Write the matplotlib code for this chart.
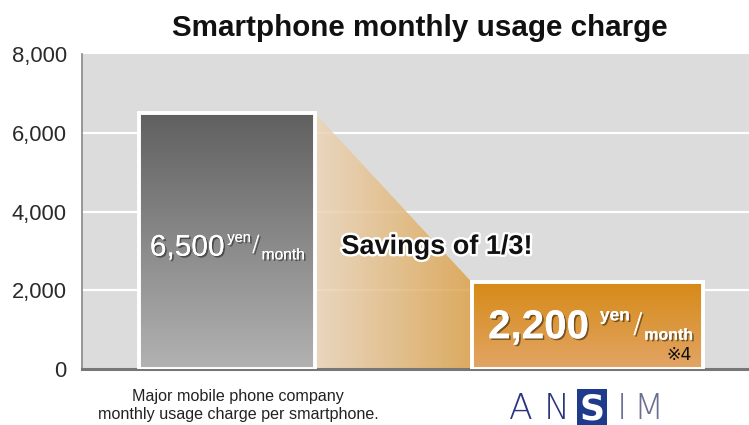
import numpy as np
import matplotlib
matplotlib.use("Agg")
import matplotlib.pyplot as plt
from matplotlib.colors import LinearSegmentedColormap
from matplotlib.patches import Polygon, Rectangle
import matplotlib.patheffects as pe

# ---- data ----
categories = ["Major mobile phone company\nmonthly usage charge per smartphone.", "ANSIM"]
values = [6500, 2200]
value_labels = ["6,500", "2,200"]
yticks = [0, 2000, 4000, 6000, 8000]
ytick_labels = ["0", "2,000", "4,000", "6,000", "8,000"]
title = "Smartphone monthly usage charge"
savings_text = "Savings of 1/3!"

W, H = 749, 425
fig = plt.figure(figsize=(W / 100, H / 100), dpi=100)
fig.patch.set_facecolor("white")

ax_l, ax_r, ax_t, ax_b = 82, 749, 54, 369
ax = fig.add_axes([ax_l / W, 1 - ax_b / H, (ax_r - ax_l) / W, (ax_b - ax_t) / H])
ax.set_facecolor("#dcdcdc")

xpos = [0, 1]
widths = [0.488, 0.641]
scale = 360.5
xlim = ((ax_l - 227) / scale, (ax_r - 227) / scale)

# grid
for yv in yticks[1:-1]:
    ax.axhline(yv, color="white", lw=1.6, zorder=1)

# gradient bars
bar_cmaps = [
    LinearSegmentedColormap.from_list("g", ["#b2b2b2", "#606060"]),
    LinearSegmentedColormap.from_list("o", ["#e2a566", "#d68a16"]),
]
grad_v = np.linspace(0, 1, 256).reshape(-1, 1)
bars = ax.bar(xpos, values, widths, color="none", edgecolor="white", lw=2.8, zorder=4)
for b, cm in zip(bars, bar_cmaps):
    x0 = b.get_x(); w = b.get_width(); h = b.get_height()
    ax.imshow(grad_v, cmap=cm, extent=(x0, x0 + w, 0, h), origin="lower",
              aspect="auto", zorder=3, interpolation="bicubic")

# savings wedge
xr0 = bars[0].get_x() + bars[0].get_width()
xl1 = bars[1].get_x()
poly = Polygon([(xr0, values[0]), (xl1, values[1]), (xl1, 0), (xr0, 0)],
               closed=True, facecolor="none", edgecolor="none")
ax.add_patch(poly)
wedge_cm = LinearSegmentedColormap.from_list("w", ["#ecd6bb", "#dca24a"])
grad_h = np.linspace(0, 1, 256).reshape(1, -1)
im = ax.imshow(grad_h, cmap=wedge_cm, extent=(xr0, xl1, 0, values[0]), origin="lower",
               aspect="auto", zorder=2, alpha=0.85, interpolation="bicubic")
im.set_clip_path(poly)

ax.set_xlim(*xlim)
ax.set_ylim(0, 8000)
ax.set_yticks(yticks)
ax.set_yticklabels(ytick_labels, fontsize=15.8, color="#2a2a2a", fontfamily="Liberation Sans")
ax.tick_params(axis="y", length=0, pad=11)
ax.set_xticks([])
for s in ["top", "right"]:
    ax.spines[s].set_visible(False)
ax.spines["left"].set_color("#888888")
ax.spines["left"].set_linewidth(1.2)
ax.spines["bottom"].set_color("#777777")
ax.spines["bottom"].set_linewidth(2.2)

# title
fig.text(420 / W, 1 - 28 / H, title, ha="center", va="center", fontsize=21.3,
         fontweight="bold", color="#111111", family="Liberation Sans")

# value labels
shadow = [pe.withSimplePatchShadow(offset=(1.2, -1.2), shadow_rgbFace="black", alpha=0.45), pe.Normal()]
bx0 = bars[0].get_x()
ax.text(bx0 + 0.03, 3080, value_labels[0], ha="left", va="center", fontsize=21.5,
        color="white", family="Liberation Sans", path_effects=shadow, zorder=6)
ax.text(bx0 + 0.245, 3330, "yen", ha="left", va="center", fontsize=10.5,
        color="white", family="Liberation Sans", path_effects=shadow, zorder=6)
ax.text(bx0 + 0.324, 3150, "/", ha="center", va="center", fontsize=16,
        color="white", family="DejaVu Sans", fontweight="light", path_effects=shadow, zorder=6)
ax.text(bx0 + 0.34, 2900, "month", ha="left", va="center", fontsize=11.2,
        color="white", family="Liberation Sans", path_effects=shadow, zorder=6)

bx1 = bars[1].get_x()
ax.text(bx1 + 0.045, 1060, value_labels[1], ha="left", va="center", fontsize=29,
        color="white", fontweight="bold", family="Liberation Sans", path_effects=shadow, zorder=6)
ax.text(bx1 + 0.355, 1350, "yen", ha="left", va="center", fontsize=12.5,
        color="white", fontweight="bold", family="Liberation Sans", path_effects=shadow, zorder=6)
ax.text(bx1 + 0.46, 1130, "/", ha="center", va="center", fontsize=20,
        color="white", fontweight="light", family="DejaVu Sans", path_effects=shadow, zorder=6)
ax.text(bx1 + 0.478, 860, "month", ha="left", va="center", fontsize=11.5,
        color="white", fontweight="bold", family="Liberation Sans", path_effects=shadow, zorder=6)
ax.text(bx1 + bars[1].get_width() - 0.03, 360, "※4", ha="right", va="center",
        fontsize=12.5, color="#111111", family=["DejaVu Sans", "Noto Sans CJK JP"], zorder=6)

# savings text
ax.text((437 - 227) / scale, 3100, savings_text, ha="center", va="center", fontsize=19.5,
        fontweight="bold", color="#111111", family="Liberation Sans",
        path_effects=[pe.withStroke(linewidth=3.5, foreground="white")], zorder=6)

# category label
fig.text(238 / W, 1 - 405 / H, categories[0], ha="center", va="center", fontsize=11.6,
         color="#222222", family="Liberation Sans", linespacing=1.25)

# logo
logo_y = 1 - 409 / H
letters = ["A", "N", "S", "I", "M"]
lx = [521, 557, 592, 622, 648]
lc = ["#2a3580", "#2a3580", "white", "#6a7090", "#6a7090"]
for ch, x, c in zip(letters, lx, lc):
    if ch == "S":
        fig.patches.append(Rectangle(((x - 15) / W, 1 - 425 / H), 30 / W, 36 / H,
                                     transform=fig.transFigure, facecolor="#1e3a8c",
                                     edgecolor="none"))
    fig.text(x / W, logo_y, ch, ha="center", va="center", fontsize=25, color=c,
             family="DejaVu Sans", fontweight="light" if ch != "S" else "bold")

fig.savefig("out.png", dpi=100)
